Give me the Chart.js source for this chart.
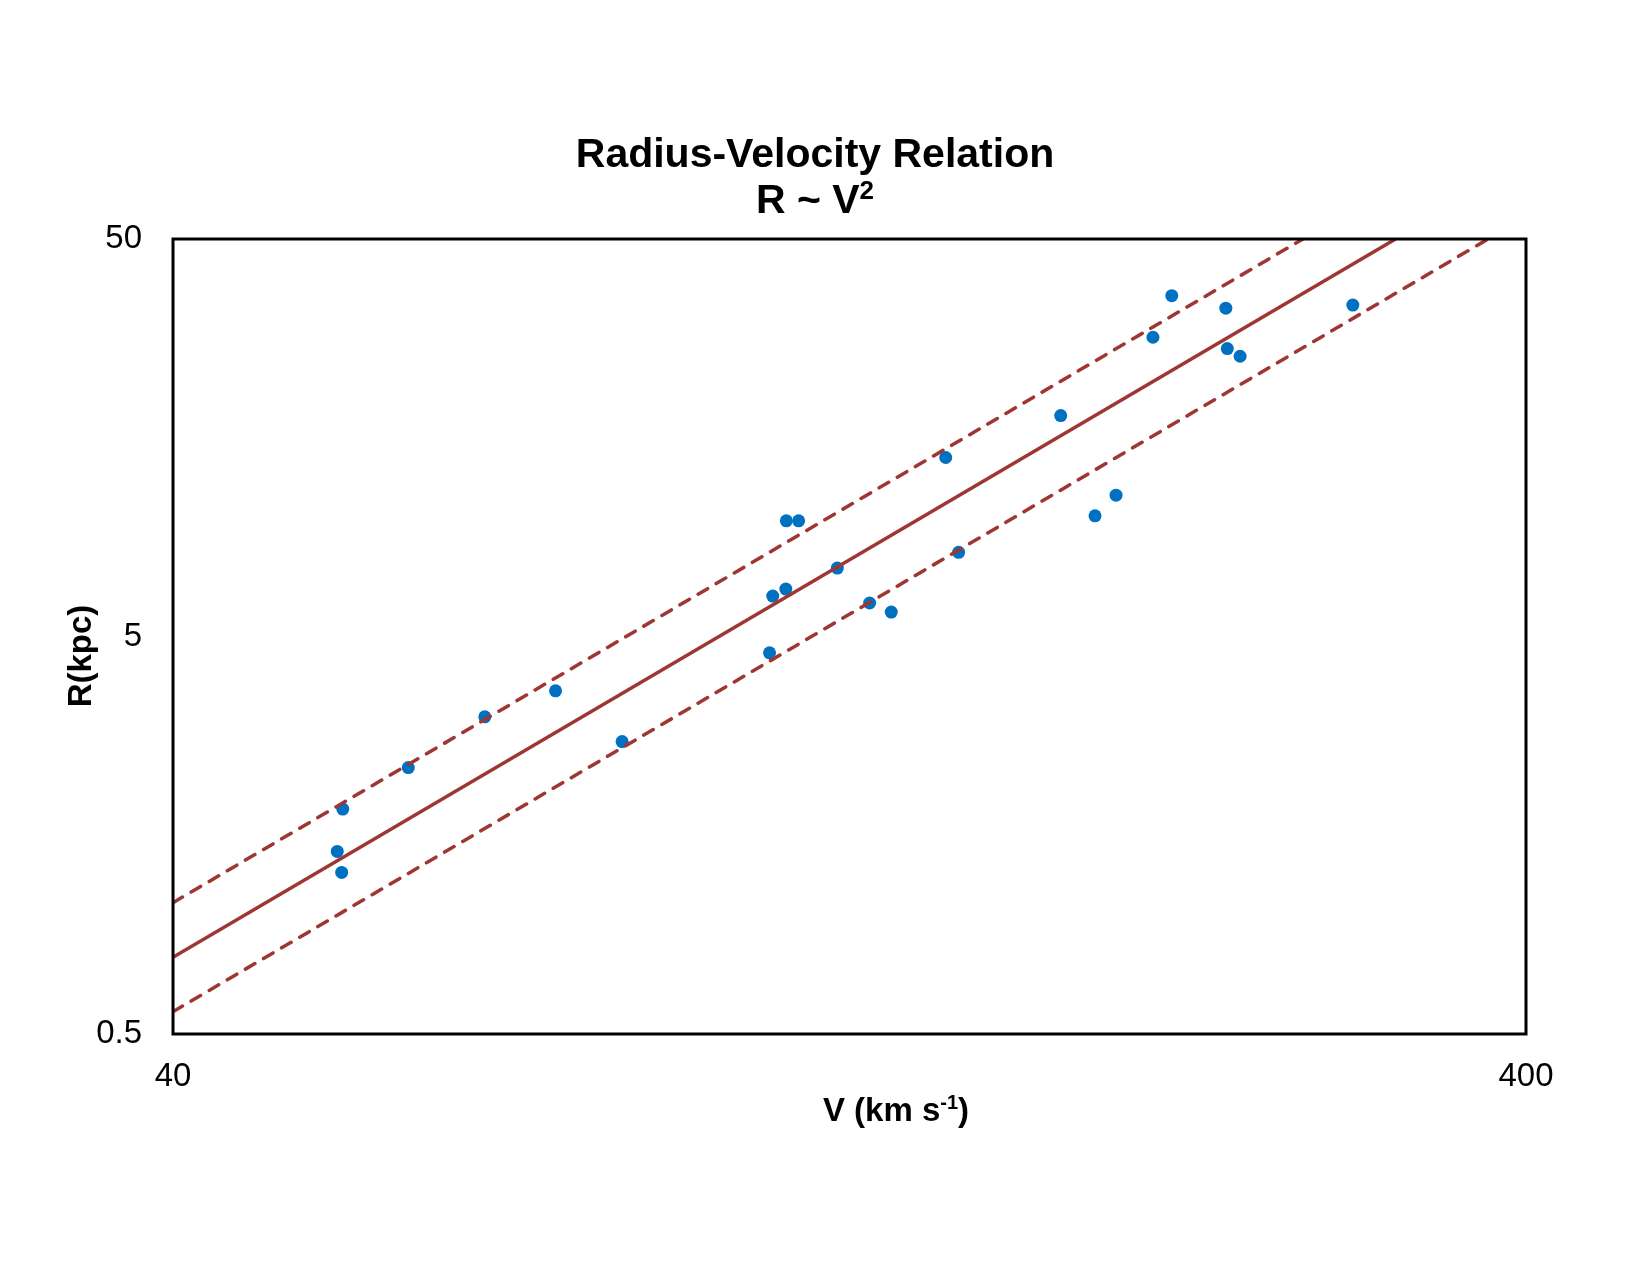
<!DOCTYPE html>
<html>
<head>
<meta charset="utf-8">
<title>Radius-Velocity Relation</title>
<script src="https://cdn.jsdelivr.net/npm/chart.js@4/dist/chart.umd.min.js"></script>
<style>
  html, body { margin: 0; padding: 0; background: #fff; }
  #wrap { width: 1650px; height: 1275px; }
</style>
</head>
<body>
<div id="wrap"><canvas id="rv" width="1650" height="1275"></canvas></div>
<script>
// Rotation velocity (km/s) vs radius (kpc).
const velocity = [53.4, 52.9, 53.3, 59.7, 68.0, 76.7, 85.9, 110.4, 111.0, 113.5, 113.6, 116.0, 123.9,
  130.9, 135.8, 149.0, 152.3, 181.2, 192.1, 199.1, 212.0, 218.9, 240.0, 240.6, 245.9, 297.9];
const radius = [1.84, 1.44, 1.275, 2.34, 3.14, 3.65, 2.72, 4.55, 6.32, 6.58, 9.77, 9.77, 7.43,
  6.07, 5.76, 14.1, 8.14, 17.98, 10.06, 11.34, 28.3, 36.0, 33.5, 26.5, 25.35, 34.1];

// R ~ V^2 fit and its +/- band, as end points (V, R) where they meet the frame.
const fitV = [40, 320.4];
const fitR = [0.78, 50];
const upperV = [40, 273.6];
const upperR = [1.07, 50];
const lowerV = [40, 375];
const lowerR = [0.569, 50];

const xTicks = [40, 400];
const yTicks = [0.5, 5, 50];

const FONT = "'Liberation Sans', Arial, sans-serif";
const RED = '#9E3734';
const BLUE = '#0070C0';

const pts = (xs, ys) => xs.map((x, i) => ({ x, y: ys[i] }));

// Draws a run of [text, size, rise] pieces centred on cx.
function drawRun(ctx, parts, cx, y) {
  const widths = parts.map(([t, size]) => { ctx.font = `bold ${size}px ${FONT}`; return ctx.measureText(t).width; });
  let x = cx - widths.reduce((a, b) => a + b, 0) / 2;
  parts.forEach(([t, size, rise], i) => {
    ctx.font = `bold ${size}px ${FONT}`;
    ctx.fillText(t, x, y - rise);
    x += widths[i];
  });
}

const frame = {
  id: 'frame',
  afterDatasetsDraw(chart) {
    const { ctx, chartArea: a } = chart;
    ctx.save();
    ctx.strokeStyle = '#000';
    ctx.lineWidth = 3;
    ctx.strokeRect(a.left, a.top, a.right - a.left, a.bottom - a.top);
    ctx.restore();
  },
  afterDraw(chart) {
    const { ctx } = chart;
    ctx.save();
    ctx.fillStyle = '#000';
    ctx.textAlign = 'left';
    ctx.textBaseline = 'alphabetic';
    drawRun(ctx, [['Radius-Velocity Relation', 41, 0]], 815, 167);
    drawRun(ctx, [['R ~ V', 41, 0], ['2', 26, 14]], 815, 213);
    drawRun(ctx, [['V (km s', 33, 0], ['-1', 20, 12], [')', 33, 0]], 896, 1121);
    ctx.translate(91, 656);
    ctx.rotate(-Math.PI / 2);
    drawRun(ctx, [['R(kpc)', 33, 0]], 0, 0);
    ctx.restore();
  },
};

const lineSet = (data, dashed) => ({
  type: 'line',
  data,
  borderColor: RED,
  borderWidth: 3.5,
  borderDash: dashed ? [11, 10] : [],
  borderCapStyle: dashed ? 'round' : 'butt',
  pointRadius: 0,
  fill: false,
  order: 0,
});

new Chart(document.getElementById('rv'), {
  type: 'scatter',
  data: {
    datasets: [
      lineSet(pts(fitV, fitR), false),
      lineSet(pts(upperV, upperR), true),
      lineSet(pts(lowerV, lowerR), true),
      {
        label: 'Galaxies',
        data: pts(velocity, radius),
        backgroundColor: BLUE,
        borderColor: BLUE,
        borderWidth: 0,
        pointRadius: 6.5,
        order: 1,
      },
    ],
  },
  options: {
    responsive: false,
    animation: false,
    devicePixelRatio: 1,
    layout: { padding: { left: 0, top: 239, right: 124, bottom: 0 } },
    plugins: { legend: { display: false }, tooltip: { enabled: false } },
    scales: {
      x: {
        type: 'logarithmic',
        min: 40, max: 400,
        grid: { display: false, drawTicks: false },
        border: { display: false },
        afterBuildTicks: (s) => { s.ticks = xTicks.map((v) => ({ value: v })); },
        afterFit: (s) => { s.height = 241; },
        ticks: { color: '#000', padding: 23, font: { family: FONT, size: 33 }, callback: (v) => String(v) },
      },
      y: {
        type: 'logarithmic',
        min: 0.5, max: 50,
        grid: { display: false, drawTicks: false },
        border: { display: false },
        afterBuildTicks: (s) => { s.ticks = yTicks.map((v) => ({ value: v })); },
        afterFit: (s) => { s.width = 173; },
        ticks: { color: '#000', padding: 31, font: { family: FONT, size: 33 }, callback: (v) => String(v) },
      },
    },
  },
  plugins: [frame],
});
</script>
</body>
</html>
